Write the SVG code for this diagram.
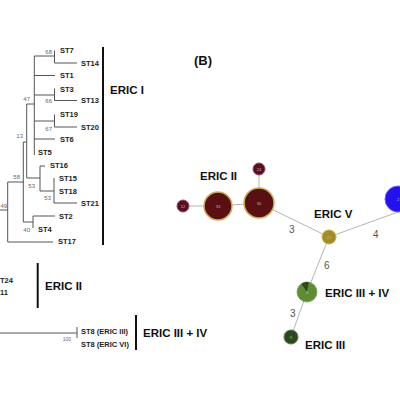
<svg xmlns="http://www.w3.org/2000/svg" width="400" height="400" viewBox="0 0 400 400">
<style>
.tl{stroke:#555;stroke-width:1;fill:none}
.bar{stroke:#111;stroke-width:2}
.st{font-family:"Liberation Sans",Arial,sans-serif;font-weight:bold;font-size:7.5px;fill:#222}
.bs{font-family:"Liberation Sans",Arial,sans-serif;font-size:6px;fill:#666}
.grp{font-family:"Liberation Sans",Arial,sans-serif;font-weight:bold;font-size:11.5px;fill:#111}
.edge{stroke:#b5b5b5;stroke-width:1;fill:none}
.el{font-family:"Liberation Sans",Arial,sans-serif;font-size:10px;fill:#555}
.nl{font-family:"Liberation Sans",Arial,sans-serif;font-size:4px;fill:#bbb;text-anchor:middle}
.maroon{fill:#5a0f12;stroke:#c9b458;stroke-width:1.5}
.small{fill:#5a0f1a;stroke:#8a4a7a;stroke-width:1}
</style>
<rect width="400" height="400" fill="#fff"/>

<!-- Panel A: tree -->
<g id="tree">
<path class="tl" d="M0,210H7.7 M7.7,182V242 M7.7,182H23.3 M23.3,142V222 M23.3,142H26.7 M26.7,104V178 M26.7,104H34.3 M34.3,56V155
M34.3,56H54.5 M54.5,50.5V63 M54.5,63H77
M34.3,75.5H55
M34.3,95H54.5 M54.5,88.5V100.5 M54.5,100.5H77
M34.3,121H54.5 M54.5,114.5V127 M54.5,127H77
M34.3,139H55
M26.7,178H40 M40,166V191 M40,166H45 M40,191H54 M54,178V203 M54,203H77
M23.3,222H33 M33,216V228 M33,216H55
M7.7,242H53
M0,333H77 M77,327V338"/>
<text class="st" x="60" y="53">ST7</text>
<text class="st" x="81" y="65.5">ST14</text>
<text class="st" x="60" y="78">ST1</text>
<text class="st" x="60" y="91.5">ST3</text>
<text class="st" x="81" y="103">ST13</text>
<text class="st" x="60" y="117">ST19</text>
<text class="st" x="81" y="129.5">ST20</text>
<text class="st" x="60" y="141.5">ST6</text>
<text class="st" x="38" y="154.5">ST5</text>
<text class="st" x="50" y="168">ST16</text>
<text class="st" x="59" y="180.5">ST15</text>
<text class="st" x="59" y="193.5">ST18</text>
<text class="st" x="81" y="205.5">ST21</text>
<text class="st" x="59" y="218.5">ST2</text>
<text class="st" x="38" y="231.5">ST4</text>
<text class="st" x="58" y="244">ST17</text>
<text class="st" x="0" y="282.5">T24</text>
<text class="st" x="0" y="294.5">11</text>
<text class="st" x="81" y="333.5">ST8 (ERIC III)</text>
<text class="st" x="81" y="346.5">ST8 (ERIC VI)</text>
<text class="bs" x="52" y="54" text-anchor="end">68</text>
<text class="bs" x="52" y="103" text-anchor="end">66</text>
<text class="bs" x="52" y="131" text-anchor="end">67</text>
<text class="bs" x="30" y="101" text-anchor="end">47</text>
<text class="bs" x="23" y="138" text-anchor="end">13</text>
<text class="bs" x="20" y="179" text-anchor="end">58</text>
<text class="bs" x="35" y="188" text-anchor="end">53</text>
<text class="bs" x="51" y="200" text-anchor="end">53</text>
<text class="bs" x="30" y="232" text-anchor="end">40</text>
<text class="bs" x="0.5" y="208">49</text>
<text class="bs" x="71" y="341" text-anchor="end" style="font-size:5px">100</text>
</g>

<g id="groups-A">
<line class="bar" x1="103" y1="47" x2="103" y2="245"/>
<text class="grp" x="110" y="94">ERIC I</text>
<line class="bar" x1="37.7" y1="263" x2="37.7" y2="308"/>
<text class="grp" x="45" y="290">ERIC II</text>
<line class="bar" x1="136" y1="315" x2="136" y2="350"/>
<text class="grp" x="143" y="337">ERIC III + IV</text>
</g>

<text id="label-B" x="194" y="65" style="font-family:'Liberation Sans',Arial,sans-serif;font-weight:bold;font-size:13px;fill:#111">(B)</text>

<!-- Panel B: network -->
<g id="connectors">
<line class="edge" x1="183" y1="206" x2="218" y2="206"/>
<line class="edge" x1="218" y1="206" x2="259" y2="203"/>
<line class="edge" x1="259" y1="169" x2="259" y2="203"/>
<line class="edge" x1="259" y1="203" x2="329" y2="237"/>
<line class="edge" x1="329" y1="237" x2="398" y2="212"/>
<line class="edge" x1="329" y1="237" x2="307" y2="292"/>
<line class="edge" x1="307" y1="292" x2="291" y2="337"/>
<text class="el" x="289" y="233">3</text>
<text class="el" x="373" y="238">4</text>
<text class="el" x="324" y="269">6</text>
<text class="el" x="290" y="317">3</text>
</g>

<g id="n12"><circle class="small" cx="183" cy="206" r="6"/><text class="nl" x="183" y="207.5">12</text></g>
<g id="n33"><circle class="maroon" cx="218" cy="206" r="14"/><text class="nl" x="218" y="207.5">33</text></g>
<g id="n30"><circle class="maroon" cx="259" cy="203" r="15"/><text class="nl" x="259" y="204.5">30</text></g>
<g id="n24"><circle class="small" cx="259" cy="169" r="6"/><text class="nl" x="259" y="170.5">24</text></g>
<g id="n25"><circle cx="329" cy="237" r="7" fill="#a48c22" stroke="#c9b24a" stroke-width="1"/><text class="nl" x="329" y="238.5">25</text></g>
<g id="nblue"><circle cx="398" cy="199" r="13" fill="#2412ee" stroke="#6a60ff" stroke-width="1"/><text class="nl" x="398" y="200.5">2</text></g>
<g id="ngreen">
<circle cx="307" cy="292" r="10" fill="#5e8c30" stroke="#7fa860" stroke-width="1"/>
<path d="M307,292 L301.3,283.8 A10,10 0 0 1 308.7,282.1 Z" fill="#2c4a1a"/>
<text class="nl" x="307" y="293.5">8</text>
</g>
<g id="ndark"><circle cx="291" cy="337" r="7" fill="#2a4a1e" stroke="#5a7a4a" stroke-width="1"/><text class="nl" x="291" y="338.5">9</text></g>

<g id="groups-B">
<text class="grp" x="200" y="180">ERIC II</text>
<text class="grp" x="314" y="218">ERIC V</text>
<text class="grp" x="325" y="297">ERIC III + IV</text>
<text class="grp" x="305" y="349">ERIC III</text>
</g>
</svg>
